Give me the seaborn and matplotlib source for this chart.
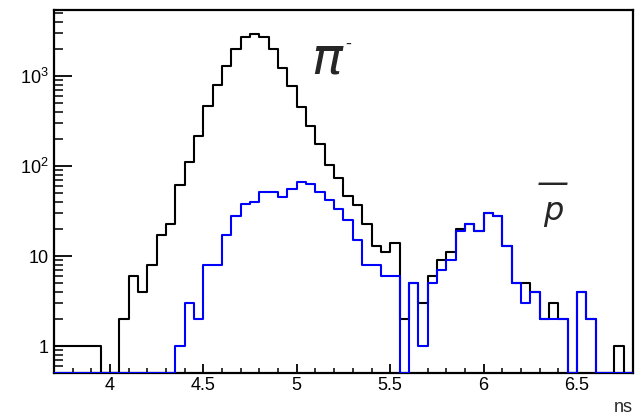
import numpy as np
import pandas as pd
import matplotlib
matplotlib.use("Agg")
import matplotlib.pyplot as plt
import seaborn as sns
from matplotlib.ticker import FixedLocator, LogLocator, MultipleLocator, NullFormatter

# ---------------- data ----------------
bin_start = 3.7
bin_width = 0.05
black_counts = [1, 1, 1, 1, 1, 0, 0, 2, 6, 4, 8, 17, 23, 62, 112, 215, 464, 788,
                1292, 1995, 2735, 2930, 2690, 1995, 1218, 774, 456, 278, 175, 103,
                74, 46, 37, 23, 13, 11, 14, 2, 5, 3, 6, 9, 11, 20, 23, 19, 30, 28,
                13, 5, 5, 4, 2, 3, 2, 0, 4, 2, 0, 0, 1, 0]
blue_counts = [0, 0, 0, 0, 0, 0, 0, 0, 0, 0, 0, 0, 0, 1, 3, 2, 8, 8, 17, 28, 38,
               40, 52, 52, 45, 56, 67, 63, 52, 42, 33, 25, 15, 8, 8, 6, 6, 0, 5, 1,
               5, 7, 9, 19, 23, 19, 30, 28, 13, 5, 3, 4, 2, 2, 2, 0, 4, 2, 0, 0, 0, 0]
x_ticks = [4, 4.5, 5, 5.5, 6, 6.5]
x_tick_labels = ["4", "4.5", "5", "5.5", "6", "6.5"]
y_ticks = [1, 10, 100, 1000]
y_tick_labels = ["1", "10", "$10^{2}$", "$10^{3}$"]
x_unit = "ns"
label_pi = "\u03c0"
label_pi_sup = "-"
label_pbar = "\u2014\np"

# axis range (display)
y_bottom, y_top = 0.505, 5400

n_bins = len(black_counts)
edges = (bin_start + bin_width * np.arange(n_bins + 1)).tolist()
centers = [e + bin_width / 2 for e in edges[:-1]]
df = pd.DataFrame({"t": centers, "black": black_counts, "blue": blue_counts})
# ROOT-like display: empty bins drawn on the bottom edge of the frame
df["black_disp"] = df["black"].clip(lower=y_bottom)
df["blue_disp"] = df["blue"].clip(lower=y_bottom)

# ---------------- style ----------------
sns.set_theme(style="ticks")
plt.rcParams["font.family"] = ["Liberation Sans", "DejaVu Sans"]
plt.rcParams["mathtext.fontset"] = "custom"
plt.rcParams["mathtext.rm"] = "Liberation Sans"
plt.rcParams["mathtext.it"] = "Liberation Sans:italic"

W, H = 636, 417
fig = plt.figure(figsize=(W / 100, H / 100), dpi=100)
fig.patch.set_facecolor("white")
ax = fig.add_axes([54 / W, (H - 373) / H, (633 - 54) / W, (373 - 10) / H])
ax.set_facecolor("white")

sns.histplot(data=df, x="t", weights="black_disp", bins=edges, element="step",
             fill=False, color="black", linewidth=1.5, zorder=3, ax=ax)
sns.histplot(data=df, x="t", weights="blue_disp", bins=edges, element="step",
             fill=False, color="#0000ff", linewidth=1.5, zorder=3.1, ax=ax)

ax.set_yscale("log")
ax.set_xlim(edges[0], edges[-1])
ax.set_ylim(y_bottom, y_top)
ax.set_xlabel("")
ax.set_ylabel("")

for s in ax.spines.values():
    s.set_visible(True)
    s.set_linewidth(1.6)
    s.set_color("black")

ax.xaxis.set_major_locator(FixedLocator(x_ticks))
ax.set_xticklabels(x_tick_labels)
ax.xaxis.set_minor_locator(MultipleLocator(0.1))
ax.yaxis.set_major_locator(FixedLocator(y_ticks))
ax.set_yticklabels(y_tick_labels)
ax.yaxis.set_minor_locator(LogLocator(base=10, subs=np.arange(2, 10) * 1.0, numticks=30))
ax.yaxis.set_minor_formatter(NullFormatter())

ax.tick_params(axis="x", which="major", direction="in", length=6.7, width=1.3,
               bottom=True, top=False, labelsize=13, pad=3, colors="black")
ax.tick_params(axis="x", which="minor", direction="in", length=3.3, width=1.3,
               bottom=True, top=False)
ax.tick_params(axis="y", which="major", direction="in", length=13, width=1.3,
               left=True, right=False, labelsize=13, pad=4, colors="black")
ax.tick_params(axis="y", which="minor", direction="in", length=6.5, width=1.3,
               left=True, right=False)

def px(x, y):
    return x / W, 1 - y / H

fig.text(*px(633, 412), x_unit, ha="right", va="baseline", fontsize=13)
fig.text(*px(311, 73), label_pi, ha="left", va="baseline", fontsize=37,
         fontstyle="italic", family=["DejaVu Sans"])
fig.text(*px(348, 44), label_pi_sup, ha="center", va="center", fontsize=13)
fig.text(*px(553, 220), label_pbar, ha="center", va="baseline", fontsize=23,
         fontstyle="italic", family=["DejaVu Sans"], linespacing=0.85,
         multialignment="center")

fig.savefig("out.png", dpi=100)
